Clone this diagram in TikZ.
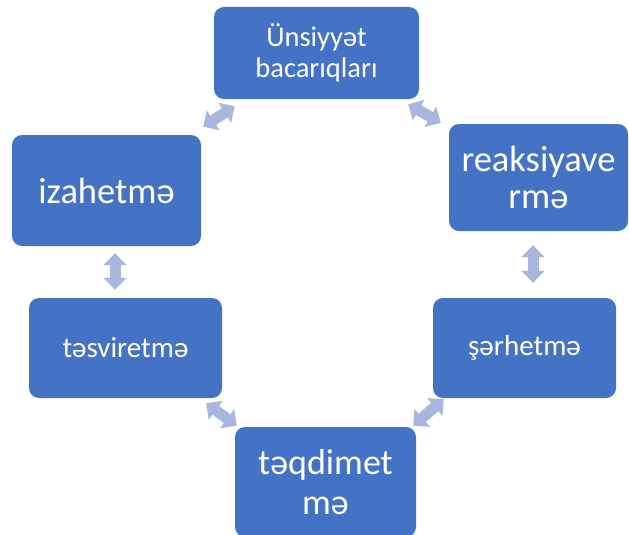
\documentclass[tikz,border=0pt]{standalone}
\usepackage{fontspec}
\setmainfont{Carlito}
\usetikzlibrary{arrows.meta}
\definecolor{boxblue}{HTML}{4472C4}
\definecolor{linkblue}{RGB}{169,182,221}
\tikzset{
    stage/.style={rectangle, rounded corners=10pt, fill=boxblue, text=white, align=center, inner sep=0pt},
    link/.style={draw=linkblue, line width=11pt, {Triangle[length=12pt,width=23pt]}-{Triangle[length=12pt,width=23pt]}}
}

\begin{document}
\begin{tikzpicture}[x=1pt, y=-1pt]
        \useasboundingbox (0,0) rectangle (629,535);

        % Blocchi del ciclo
        \node (unsiyyet) [stage, minimum width=205pt, minimum height=92pt, font=\fontsize{28.5}{31.5}\selectfont] at (316.5,53) {Ünsiyyət\\bacarıqları};
        \node (izahet) [stage, minimum width=189pt, minimum height=111pt, font=\fontsize{36.5}{40}\selectfont] at (106.5,190.5) {izahetmə};
        \node (reaksiya) [stage, minimum width=179pt, minimum height=107pt, font=\fontsize{36.5}{36.5}\selectfont] at (538.5,177.5) {reaksiyave\\rmə};
        \node (tesvir) [stage, minimum width=193pt, minimum height=100pt, font=\fontsize{29}{32}\selectfont] at (125.5,348) {təsviretmə};
        \node (serh) [stage, minimum width=183pt, minimum height=100pt, font=\fontsize{29}{32}\selectfont] at (524.5,348) {şərhetmə};
        \node (teqdim) [stage, minimum width=181pt, minimum height=110pt, font=\fontsize{36}{40}\selectfont] at (325.5,482) {təqdimet\\mə};

        % Frecce doppie tra i blocchi
        \draw [link] ([shift={(21,7)}]unsiyyet.south west) -- ([shift={(2,-8)}]izahet.north east);
        \draw [link] ([shift={(-11,5)}]unsiyyet.south east) -- ([shift={(-8,-1)}]reaksiya.north west);
        \draw [link] ([shift={(8.5,7)}]izahet.south) -- ([shift={(-10.5,-8)}]tesvir.north);
        \draw [link] ([shift={(-5.5,14)}]reaksiya.south) -- ([shift={(8.5,-15)}]serh.north);
        \draw [link] ([shift={(-16,5)}]tesvir.south east) -- ([shift={(2,-1)}]teqdim.north west);
        \draw [link] ([shift={(11,1)}]serh.south west) -- ([shift={(-3,-1)}]teqdim.north east);

    \end{tikzpicture}
\end{document}
